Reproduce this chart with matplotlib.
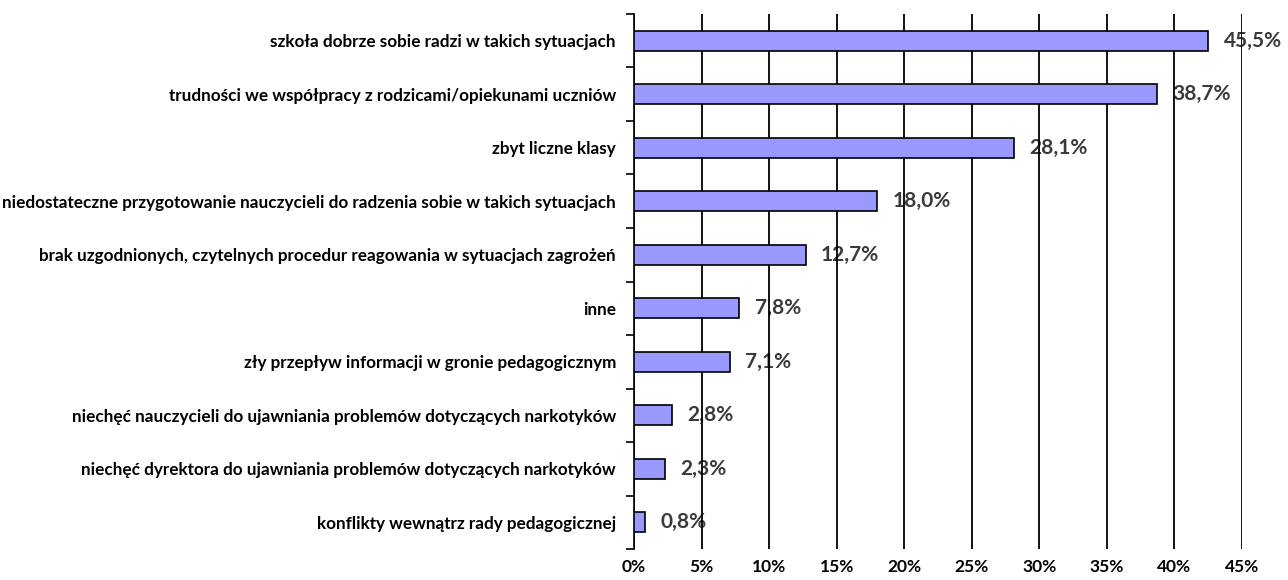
import matplotlib
matplotlib.use("Agg")
import matplotlib.pyplot as plt

plt.rcParams['font.family'] = ['Lato', 'DejaVu Sans']

categories = [
    "szkoła dobrze sobie radzi w takich sytuacjach",
    "trudności we współpracy z rodzicami/opiekunami uczniów",
    "zbyt liczne klasy",
    "niedostateczne przygotowanie nauczycieli do radzenia sobie w takich sytuacjach",
    "brak uzgodnionych, czytelnych procedur reagowania w sytuacjach zagrożeń",
    "inne",
    "zły przepływ informacji w gronie pedagogicznym",
    "niechęć nauczycieli do ujawniania problemów dotyczących narkotyków",
    "niechęć dyrektora do ujawniania problemów dotyczących narkotyków",
    "konflikty wewnątrz rady pedagogicznej",
]
# bar lengths as drawn in the picture (first bar is drawn shorter than its label)
values = [42.5, 38.7, 28.1, 18.0, 12.7, 7.8, 7.1, 2.8, 2.3, 0.8]
value_labels = ["45,5%", "38,7%", "28,1%", "18,0%", "12,7%",
                "7,8%", "7,1%", "2,8%", "2,3%", "0,8%"]
xticks = [0, 5, 10, 15, 20, 25, 30, 35, 40, 45]

fig = plt.figure(figsize=(12.88, 5.8), dpi=100)
ax = fig.add_axes([0.4922, 0.0534, 0.4721, 0.9225])

n = len(categories)
ypos = list(range(n))
ax.barh(ypos, values, height=0.38, color='#9999ff', edgecolor='black',
        linewidth=1.2, zorder=3)

# value labels sit under the gridlines, like in the original
for y, v, lab in zip(ypos, values, value_labels):
    ax.annotate(lab, (v, y), xytext=(11, 0), textcoords='offset points',
                va='center', ha='left', fontsize=15, fontweight='bold',
                color='#3a3a3a', zorder=0.5)

ax.set_xlim(0, 45)
ax.set_ylim(n - 0.5, -0.5)
ax.set_xticks(xticks)
ax.set_xticklabels([f"{t}%" for t in xticks], fontsize=12.5, fontweight='bold')
ax.tick_params(axis='x', length=0, pad=7)

ax.set_yticks(ypos)
ax.set_yticklabels(categories, fontsize=12.3, fontweight='bold')
ax.tick_params(axis='y', which='major', length=0, pad=13)
ax.set_yticks([i - 0.5 for i in range(n + 1)], minor=True)
ax.tick_params(axis='y', which='minor', length=6, width=1.2, direction='out')

ax.xaxis.grid(True, color='black', linewidth=1.3, zorder=1)
for side in ['top', 'right', 'bottom']:
    ax.spines[side].set_visible(False)
ax.spines['left'].set_linewidth(1.2)

fig.savefig("out.png", dpi=100)
